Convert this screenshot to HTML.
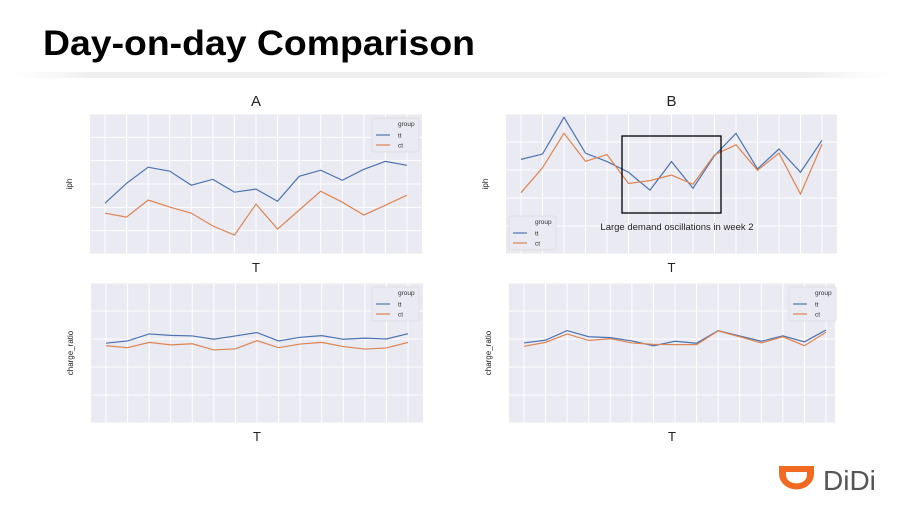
<!DOCTYPE html>
<html><head><meta charset="utf-8"><style>
body{margin:0;background:#fff;width:901px;height:515px;overflow:hidden;font-family:"Liberation Sans",sans-serif}
svg{display:block}
</style></head><body>
<svg id="s" width="901" height="515" viewBox="0 0 901 515">
<defs><linearGradient id="hg" x1="0" x2="1"><stop offset="0" stop-color="#f2f2f2" stop-opacity="0"/><stop offset="0.1" stop-color="#eeeeee"/><stop offset="0.9" stop-color="#eeeeee"/><stop offset="1" stop-color="#f2f2f2" stop-opacity="0"/></linearGradient></defs>
<text x="43" y="55" font-size="35" font-weight="bold" fill="#000" textLength="432" lengthAdjust="spacingAndGlyphs">Day-on-day Comparison</text>
<rect x="10" y="72" width="880" height="6" fill="url(#hg)"/>
<g>
<path d="M779,466 H814 V474 A17,15 0 0 1 779,474 Z M786,472 V475 A10,8 0 0 0 807,475 V472 Z" fill="#f26a21" fill-rule="evenodd"/>
<text x="823" y="490" font-size="28" fill="#555">DiDi</text>
</g>
<g id="charts"></g>
</svg>
<script>
// Chart A (iph)
const A_tt=[2.18,3.03,3.72,3.55,2.95,3.2,2.65,2.78,2.26,3.33,3.59,3.16,3.63,3.97,3.8];
const A_ct=[1.75,1.58,2.31,2.01,1.75,1.2,0.81,2.14,1.07,1.88,2.69,2.22,1.67,2.09,2.52];
// Chart B (iph)
const B_tt=[3.38,3.57,4.88,3.6,3.3,2.92,2.28,3.3,2.35,3.51,4.31,3.04,3.75,2.92,4.06];
const B_ct=[2.19,3.08,4.31,3.31,3.55,2.52,2.62,2.82,2.49,3.54,3.9,2.99,3.6,2.14,3.92];
// Charge ratio A
const C_tt=[2.85,2.93,3.18,3.13,3.11,2.99,3.11,3.23,2.93,3.06,3.12,2.99,3.03,3.0,3.19];
const C_ct=[2.76,2.69,2.88,2.79,2.83,2.61,2.65,2.94,2.69,2.82,2.88,2.73,2.64,2.68,2.88];
// Charge ratio B
const D_tt=[2.86,2.96,3.30,3.08,3.05,2.93,2.76,2.92,2.85,3.30,3.11,2.92,3.11,2.90,3.32];
const D_ct=[2.74,2.88,3.18,2.95,3.01,2.86,2.81,2.80,2.80,3.29,3.08,2.86,3.08,2.76,3.24];
const groups=['tt','ct'];
const NS='http://www.w3.org/2000/svg';
const root=document.getElementById('charts');
function mk(tag,attrs,parent){const e=document.createElementNS(NS,tag);for(const k in attrs)e.setAttribute(k,attrs[k]);(parent||root).appendChild(e);return e;}
const colors={tt:'#4c72b0',ct:'#dd8452'};
function chart(cfg){
  const g=mk('g',{});
  
  
  const bg=mk('rect',{x:cfg.x0,y:cfg.y0,width:cfg.x1-cfg.x0,height:cfg.y1-cfg.y0,fill:'#eaeaf2'},g);
  
  
  const n=cfg.tt.length;
  const sx=i=>cfg.px0+(cfg.px1-cfg.px0)*i/(n-1);
  const sy=v=>cfg.y1-(v-cfg.ymin)/(cfg.ymax-cfg.ymin)*(cfg.y1-cfg.y0);
  for(let v=cfg.ymin;v<=cfg.ymax;v++){const l=mk('line',{x1:cfg.x0,x2:cfg.x1,y1:sy(v),y2:sy(v),stroke:'#fff','stroke-width':1},g);
    
    }
  for(let i=0;i<n;i++){const l=mk('line',{x1:sx(i),x2:sx(i),y1:cfg.y0,y2:cfg.y1,stroke:'#fff','stroke-width':1},g);
    
    }
  const data={tt:cfg.tt,ct:cfg.ct};
  groups.forEach(k=>{const p=mk('polyline',{points:data[k].map((v,i)=>sx(i)+','+sy(v)).join(' '),fill:'none',stroke:colors[k],'stroke-width':1.2},g);
    
    });
  if(cfg.title){const t=mk('text',{x:(cfg.x0+cfg.x1)/2,y:cfg.y0-8,'font-size':15,'text-anchor':'middle',fill:'#222'},g);t.textContent=cfg.title;
    
    }
  const xl=mk('text',{x:(cfg.x0+cfg.x1)/2,y:cfg.y1+18,'font-size':13,'text-anchor':'middle',fill:'#222'},g);xl.textContent='T';
  
  
  const yx=cfg.x0-18,yy=(cfg.y0+cfg.y1)/2;
  const yl=mk('text',{x:yx,y:yy,'font-size':8,'text-anchor':'middle',fill:'#222',transform:'rotate(-90 '+yx+' '+yy+')'},g);yl.textContent=cfg.ylabel;
  
  
  const L=cfg.legend;
  const lg=mk('g',{},g);
  
  
  mk('rect',{x:L.x,y:L.y,width:47,height:34,rx:2,fill:'#eaeaf2',stroke:'#dcdcdc','stroke-width':0.8},lg);
  const gt=mk('text',{x:L.x+26,y:L.y+8,'font-size':6.5,fill:'#333'},lg);gt.textContent='group';
  groups.forEach((k,j)=>{const yy2=L.y+17+j*10;
    const e=mk('g',{},lg);
    
    
    mk('line',{x1:L.x+4,x2:L.x+18,y1:yy2,y2:yy2,stroke:colors[k],'stroke-width':1.2},e);
    const t=mk('text',{x:L.x+26,y:yy2+2.5,'font-size':6.5,fill:'#333'},e);t.textContent=k;});
  return g;
}
chart({name:'chart-a-iph',title:'A',x0:90,x1:422,y0:114,y1:254,px0:105,px1:407,ymin:0,ymax:6,tt:A_tt,ct:A_ct,ylabel:'iph',legend:{x:372,y:118}});
const gb=chart({name:'chart-b-iph',title:'B',x0:506,x1:837,y0:114,y1:254,px0:521,px1:822,ymin:0,ymax:5,tt:B_tt,ct:B_ct,ylabel:'iph',legend:{x:509,y:216}});
chart({name:'chart-a-charge-ratio',x0:91,x1:423,y0:283,y1:423,px0:106,px1:408,ymin:0,ymax:5,tt:C_tt,ct:C_ct,ylabel:'charge_ratio',legend:{x:372,y:287}});
chart({name:'chart-b-charge-ratio',x0:509,x1:835,y0:283,y1:423,px0:524,px1:826,ymin:0,ymax:5,tt:D_tt,ct:D_ct,ylabel:'charge_ratio',legend:{x:789,y:287}});
const box=mk('rect',{x:622,y:136,width:99,height:77,fill:'none',stroke:'#000','stroke-width':1.3},gb);


const at=mk('text',{x:677,y:230,'font-size':9.5,'text-anchor':'middle',fill:'#222'},gb);at.textContent='Large demand oscillations in week 2';


</script>
</body></html>
